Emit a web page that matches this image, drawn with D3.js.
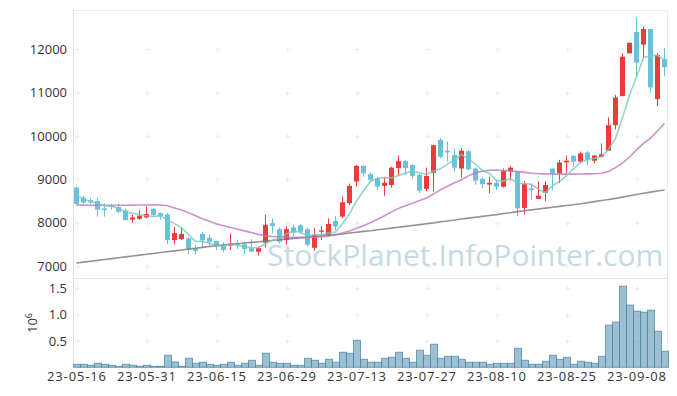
<!DOCTYPE html>
<html>
<head>
<meta charset="utf-8">
<script src="https://cdn.jsdelivr.net/npm/d3@7"></script>
<style>
body { margin: 0; background: #fff; }
svg { font-family: "Open Sans", sans-serif; }
</style>
</head>
<body>
<div id="chart"></div>
<script>
// trading days shown on the chart
var dates = [
  "23-05-16","23-05-17","23-05-18","23-05-19","23-05-22","23-05-23","23-05-24","23-05-25","23-05-26","23-05-30",
  "23-05-31","23-06-01","23-06-02","23-06-05","23-06-07","23-06-08","23-06-09","23-06-12","23-06-13","23-06-14",
  "23-06-15","23-06-16","23-06-19","23-06-20","23-06-21","23-06-22","23-06-23","23-06-26","23-06-27","23-06-28",
  "23-06-29","23-06-30","23-07-03","23-07-04","23-07-05","23-07-06","23-07-07","23-07-10","23-07-11","23-07-12",
  "23-07-13","23-07-14","23-07-17","23-07-18","23-07-19","23-07-20","23-07-21","23-07-24","23-07-25","23-07-26",
  "23-07-27","23-07-28","23-07-31","23-08-01","23-08-02","23-08-03","23-08-04","23-08-07","23-08-08","23-08-09",
  "23-08-10","23-08-11","23-08-14","23-08-16","23-08-17","23-08-18","23-08-21","23-08-22","23-08-23","23-08-24",
  "23-08-25","23-08-28","23-08-29","23-08-30","23-08-31","23-09-01","23-09-04","23-09-05","23-09-06","23-09-07",
  "23-09-08","23-09-11","23-09-12","23-09-13","23-09-14"];

var open = [
  8810,8580,8520,8500,8330,8390,8360,8280,8070,8090,
  8120,8320,8220,8190,7600,7620,7640,7410,7740,7650,
  7580,7490,7470,7520,7500,7410,7330,7540,7990,7850,
  7600,7890,7940,7850,7420,7790,7700,8040,8140,8450,
  8950,9310,9120,9020,8850,8870,9260,9420,9330,9100,
  8780,9150,9910,9660,9560,9250,9650,9250,9010,8880,
  8920,8830,9180,9180,8340,8790,8550,8690,9250,9140,
  9390,9540,9410,9620,9430,9520,9660,10250,10920,11910,
  12400,12110,12470,10850,11780];
var high = [
  8830,8620,8560,8560,8450,8430,8430,8330,8180,8290,
  8370,8330,8240,8220,7910,7880,7660,7480,7790,7720,
  7580,7550,7750,7600,7560,7620,7450,8180,8100,7890,
  7920,7950,7970,7890,7880,7920,8100,8150,8600,8900,
  9330,9330,9150,9060,9060,9290,9550,9450,9350,9140,
  9270,9800,9950,9870,9720,9720,9680,9270,9060,9060,
  8990,9250,9300,9180,8960,8900,8960,8960,9250,9450,
  9550,9560,9640,9660,9560,9830,10430,10950,11910,12160,
  12740,12530,12470,11910,12030];
var low = [
  8400,8430,8420,8140,8140,8300,8220,8050,8000,8060,
  8100,8120,8070,7500,7500,7600,7270,7270,7420,7470,
  7370,7320,7370,7390,7280,7330,7240,7430,7750,7520,
  7490,7690,7740,7450,7350,7600,7680,7820,8100,8400,
  8830,9060,8950,8750,8620,8810,9080,9100,9010,8680,
  8730,8720,9480,9410,9180,9040,9210,8870,8790,8680,
  8750,8810,8970,8150,8190,8520,8550,8500,8750,8910,
  9140,9290,9380,9330,9370,9520,9660,10150,10920,11900,
  11370,11790,10990,10690,11370];
var close = [
  8430,8470,8470,8300,8290,8360,8250,8060,8120,8160,
  8200,8180,8150,7600,7760,7740,7390,7350,7590,7560,
  7450,7370,7520,7490,7390,7330,7410,7950,7920,7560,
  7850,7770,7790,7490,7720,7820,7970,7910,8470,8850,
  9310,9140,8990,8830,8920,9270,9420,9260,9080,8740,
  9080,9790,9520,9620,9270,9660,9230,8970,8890,8920,
  8830,9190,9270,8330,8890,8750,8620,8870,9120,9390,
  9430,9410,9600,9450,9550,9580,10250,10890,11830,12150,
  11690,12470,11120,11870,11590];
var volume = [
  57000,57000,38000,76000,57000,38000,19000,57000,38000,19000,
  38000,19000,19000,228000,101000,19000,171000,76000,95000,57000,
  38000,57000,95000,38000,76000,133000,38000,266000,95000,76000,
  76000,38000,38000,171000,133000,76000,152000,95000,285000,266000,
  513000,152000,95000,95000,171000,190000,285000,171000,95000,323000,
  228000,437000,171000,209000,209000,152000,95000,95000,95000,57000,
  76000,76000,76000,361000,133000,57000,57000,114000,228000,152000,
  190000,57000,114000,95000,76000,209000,800000,856000,1540000,1180000,
  1065000,1046000,1084000,684000,304000];

// moving averages as they appear on the chart
var ma5 = [
  8640,8550,8490,8450,8392,8378,8334,8252,8216,8190,
  8158,8144,8162,8058,7978,7886,7728,7568,7566,7526,
  7468,7464,7498,7478,7444,7420,7428,7514,7600,7634,
  7738,7810,7778,7692,7724,7718,7758,7782,7978,8204,
  8502,8736,8952,9024,9038,9030,9086,9140,9190,9154,
  9116,9190,9242,9350,9456,9572,9460,9350,9204,9134,
  8968,8960,9020,8908,8902,8886,8772,8692,8850,8950,
  9086,9244,9390,9456,9488,9518,9686,9944,10420,10940,
  11362,11806,11852,11860,11748];
var ma20 = [
  8408,8405,8403,8402,8400,8400,8401,8403,8405,8407,
  8409,8410,8408,8390,8340,8290,8230,8160,8090,8030,
  7970,7930,7890,7850,7810,7770,7730,7695,7680,7670,
  7662,7660,7660,7660,7665,7675,7690,7720,7760,7810,
  7870,7930,8000,8080,8160,8250,8330,8390,8450,8510,
  8570,8660,8760,8840,8920,8990,9080,9150,9190,9210,
  9215,9205,9195,9180,9160,9140,9130,9125,9122,9120,
  9120,9120,9122,9125,9128,9140,9180,9270,9380,9510,
  9680,9830,9950,10120,10290];
var ma60 = [
  7070,7090,7110,7130,7150,7170,7190,7210,7230,7250,
  7270,7290,7310,7330,7350,7370,7390,7410,7430,7450,
  7470,7485,7500,7515,7530,7545,7560,7575,7590,7605,
  7620,7635,7650,7665,7680,7695,7710,7725,7740,7760,
  7780,7800,7815,7835,7855,7875,7895,7915,7935,7955,
  7975,7995,8020,8040,8060,8085,8105,8125,8145,8165,
  8185,8210,8230,8255,8275,8295,8315,8335,8355,8375,
  8395,8415,8435,8460,8485,8510,8535,8560,8590,8620,
  8650,8680,8705,8730,8755];

var dateTicks = [0,10,20,30,40,50,60,70,80];
var priceTicks = [7000,8000,9000,10000,11000,12000];
var volumeTicks = [500000,1000000,1500000];

var width = 677, height = 396;
var left = 73, right = 668;
var priceTop = 10, priceBottom = 278, volBottom = 367.3;

var upColor = "#ec3b3b", downColor = "#69c2d9";

var svg = d3.select("#chart").append("svg")
  .attr("width", width)
  .attr("height", height);

var x = d3.scaleBand()
  .domain(d3.range(dates.length))
  .range([left, right]);
var cx = function(i) { return x(i) + x.bandwidth() / 2; };

var y = d3.scaleLinear()
  .domain([6723, 12908])
  .range([priceBottom, priceTop]);
var yv = d3.scaleLinear()
  .domain([0, d3.max(volume) * 1.1])
  .range([volBottom, priceBottom]);

// frame lines
svg.append("path")
  .attr("d", "M" + left + "," + (priceTop + 0.5) + "H" + (right - 0.5) + "V" + volBottom)
  .attr("fill", "none").attr("stroke", "#ebebeb");
svg.append("line")
  .attr("x1", left).attr("x2", right).attr("y1", priceBottom + 0.5).attr("y2", priceBottom + 0.5)
  .attr("stroke", "#e3e3e3");
svg.append("line")
  .attr("x1", left + 0.5).attr("x2", left + 0.5).attr("y1", priceTop).attr("y2", volBottom)
  .attr("stroke", "#e3e3e3");

// small cross marks at the grid points
var crosses = [];
dateTicks.forEach(function(i) {
  priceTicks.forEach(function(p) { crosses.push([cx(i), y(p)]); });
  volumeTicks.forEach(function(v) { crosses.push([cx(i), yv(v)]); });
});
svg.append("g").selectAll("path").data(crosses).enter().append("path")
  .attr("d", function(d) { return "M" + (Math.round(d[0]) - 2) + "," + (Math.round(d[1]) + 0.5) + "h5M" + (Math.round(d[0]) + 0.5) + "," + (Math.round(d[1]) - 2) + "v5"; })
  .attr("stroke", "#ececec");

// watermark
svg.append("text")
  .attr("x", 267).attr("y", 266)
  .attr("font-size", 30)
  .attr("fill", "#c6d9e3")
  .text("StockPlanet.InfoPointer.com");

// volume bars
svg.append("g").selectAll("rect").data(volume).enter().append("rect")
  .attr("x", function(d, i) { return x(i) + 0.5; })
  .attr("width", x.bandwidth())
  .attr("y", function(d) { return yv(d); })
  .attr("height", function(d) { return volBottom - yv(d); })
  .attr("fill", "rgba(90,150,180,0.6)")
  .attr("stroke", "rgba(75,135,165,0.75)");

// candles
var candle = svg.append("g").selectAll("g").data(d3.range(dates.length)).enter().append("g")
  .attr("fill", function(i) { return close[i] >= open[i] ? upColor : downColor; })
  .attr("stroke", function(i) { return close[i] >= open[i] ? upColor : downColor; });
candle.append("line")
  .attr("x1", function(i) { return cx(i); })
  .attr("x2", function(i) { return cx(i); })
  .attr("y1", function(i) { return y(high[i]); })
  .attr("y2", function(i) { return y(low[i]); });
candle.append("rect")
  .attr("stroke", "none")
  .attr("x", function(i) { return cx(i) - 2.5; })
  .attr("width", 5)
  .attr("y", function(i) { return y(Math.max(open[i], close[i])); })
  .attr("height", function(i) { return Math.max(1, Math.abs(y(open[i]) - y(close[i]))); });

// moving averages
var line = d3.line().x(function(d, i) { return cx(i); }).y(function(d) { return y(d); });
[[ma60, "rgba(120,120,120,0.8)"], [ma20, "rgba(190,120,190,0.8)"], [ma5, "rgba(120,200,190,0.8)"]].forEach(function(s) {
  svg.append("path").datum(s[0])
    .attr("d", line)
    .attr("fill", "none")
    .attr("stroke", s[1])
    .attr("stroke-width", 1.6);
});

// axes
var yAxis = svg.append("g")
  .attr("transform", "translate(" + left + ",0)")
  .call(d3.axisLeft(y).tickValues(priceTicks).tickSize(0).tickPadding(6)
    .tickFormat(d3.format("d")));
var vAxis = svg.append("g")
  .attr("transform", "translate(" + left + ",0)")
  .call(d3.axisLeft(yv).tickValues(volumeTicks).tickSize(0).tickPadding(6)
    .tickFormat(function(d) { return d3.format(".1f")(d / 1e6); }));
var xAxis = svg.append("g")
  .attr("transform", "translate(0," + volBottom + ")")
  .call(d3.axisBottom(x).tickValues(dateTicks).tickSize(0).tickPadding(4)
    .tickFormat(function(i) { return dates[i]; }));
[yAxis, vAxis, xAxis].forEach(function(a) {
  a.select(".domain").remove();
  a.selectAll("text").attr("font-size", 13).attr("fill", "#333").attr("font-family", "'Open Sans', sans-serif");
});
// date labels in the original are set a little wider
xAxis.selectAll("text").attr("textLength", 59).attr("lengthAdjust", "spacing");

// volume unit
var unit = svg.append("text")
  .attr("transform", "translate(37,333) rotate(-90)")
  .attr("font-size", 13)
  .attr("fill", "#333");
unit.append("tspan").text("10");
unit.append("tspan").attr("dy", -5).attr("font-size", 9).text("6");
</script>
</body>
</html>
